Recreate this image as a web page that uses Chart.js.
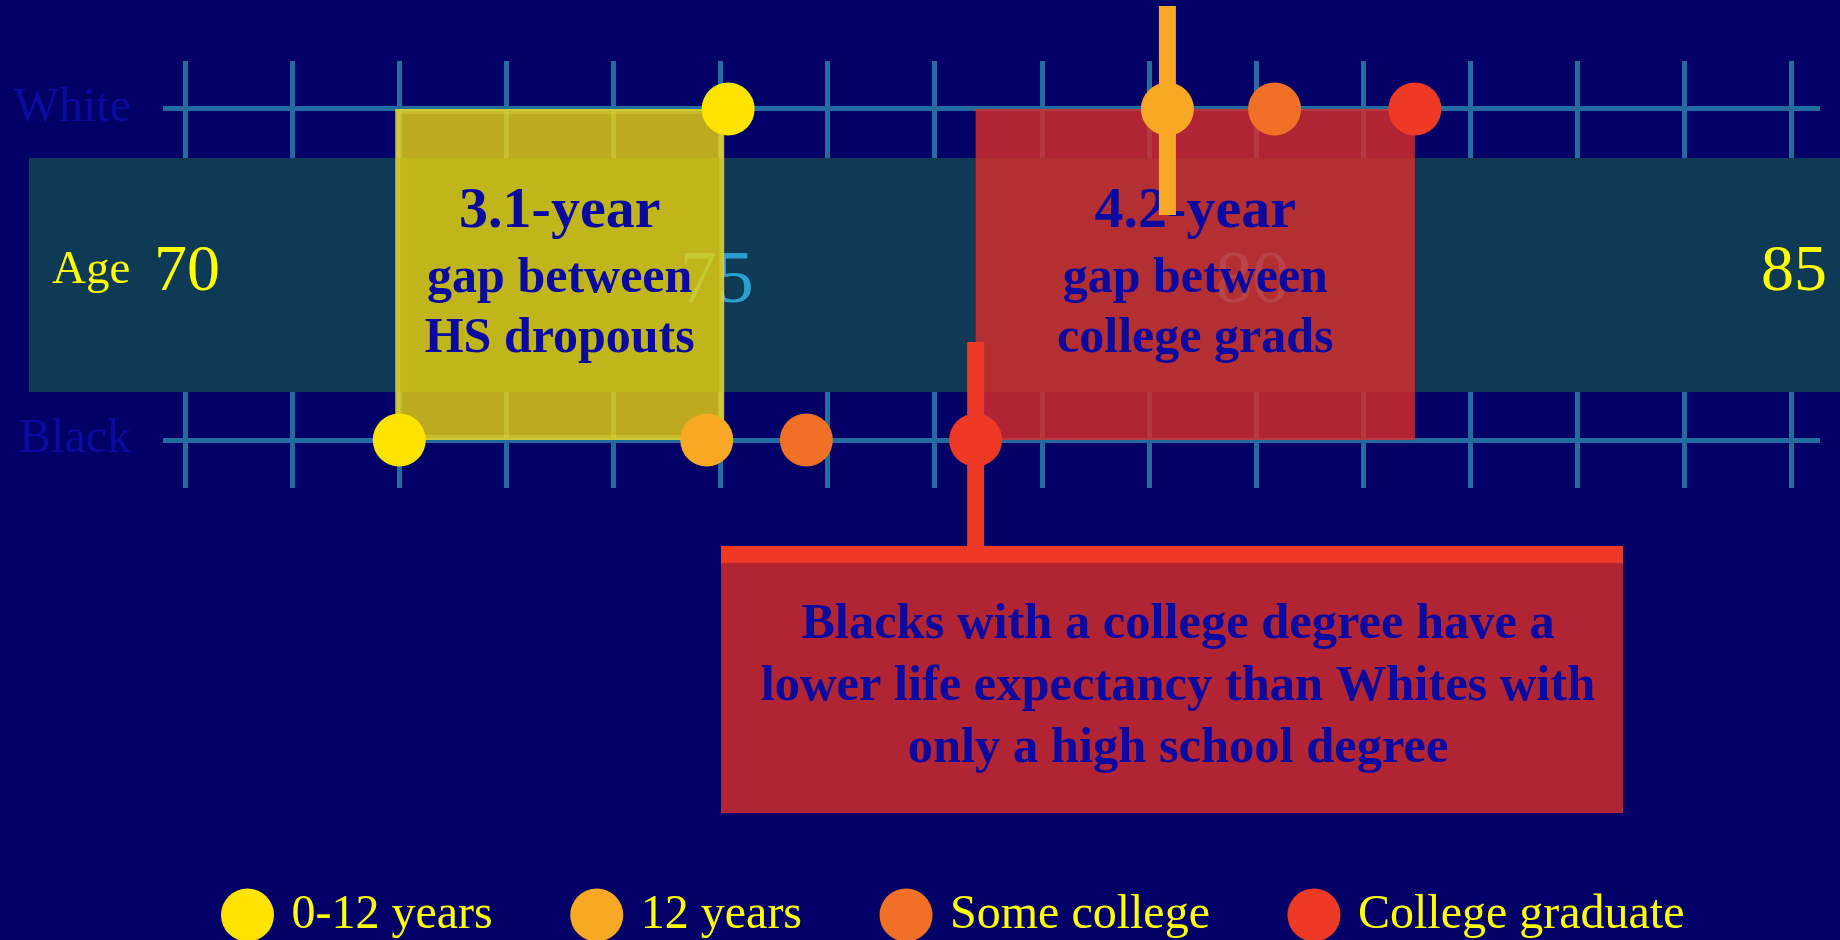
<!DOCTYPE html>
<html>
<head>
<meta charset="utf-8">
<script src="https://cdn.jsdelivr.net/npm/chart.js@4.4.1/dist/chart.umd.min.js"></script>
<style>
  html, body { margin: 0; padding: 0; background: #000066; }
</style>
</head>
<body>
<canvas id="chart" width="1840" height="940"></canvas>
<script>
// rows on the y axis (White above, Black below)
const rowLabels = ["White", "Black"];
const rowValues = [1, 0];

// education levels and life expectancy at each level
const levels = ["0-12 years", "12 years", "Some college", "College graduate"];
const whiteAge = [75.07, 79.17, 80.17, 81.48];
const blackAge = [72.0, 74.87, 75.8, 77.38];

// age scale labels drawn in the band
const ageLabels = [70, 75, 80, 85];

// gap boxes: which level they span and their text
const gapLevels = [0, 3];
const gapText = [
  ["3.1-year", "gap between", "HS dropouts"],
  ["4.2-year", "gap between", "college grads"],
];
const calloutText = [
  "Blacks with a college degree have a",
  "lower life expectancy than Whites with",
  "only a high school degree",
];

const levelColors = ["#fce300", "#f9a823", "#f07025", "#ee3a24"];
const ageLabelColors = ["#ffff00", "#2a9fd0", "#2a9fd0", "#ffff00"];
const gapColors = ["rgba(236, 212, 12, 0.8)", "rgba(220, 45, 40, 0.8)"];
const gapShift = [-4, 0];
const serif = '"Liberation Serif", "Times New Roman", serif';
const navy = "#000066";
const gridBlue = "#236ca0";
const textBlue = "#0a0aa0";

const decor = {
  id: "decor",
  beforeDraw(chart) {
    const { ctx, width, height } = chart;
    ctx.save();
    ctx.fillStyle = navy;
    ctx.fillRect(0, 0, width, height);
    ctx.restore();
  },
  beforeDatasetsDraw(chart) {
    const { ctx, width } = chart;
    const { x, y } = chart.scales;
    const yWhite = y.getPixelForValue(rowValues[0]);
    const yBlack = y.getPixelForValue(rowValues[1]);
    ctx.save();

    // row names
    ctx.textAlign = "right";
    ctx.textBaseline = "alphabetic";
    ctx.fillStyle = textBlue;
    ctx.font = `48px ${serif}`;
    rowLabels.forEach((r, i) => ctx.fillText(r, 131, y.getPixelForValue(rowValues[i]) + 12));

    // teal band behind the age labels
    ctx.fillStyle = "#0f3a55";
    ctx.fillRect(29, 158, width - 29, 234);

    ctx.textAlign = "left";
    ctx.fillStyle = "#ffff00";
    ctx.font = `47px ${serif}`;
    ctx.fillText("Age", 52, 283);

    ctx.textAlign = "center";
    ageLabels.forEach((a, i) => {
      const inner = i === 1 || i === 2;
      ctx.font = `${inner ? 74 : 66}px ${serif}`;
      ctx.fillStyle = ageLabelColors[i];
      ctx.fillText(String(a), x.getPixelForValue(a) + (inner ? -4 : 2), inner ? 302 : 290);
    });

    // gap boxes between Black and White at the same level
    gapLevels.forEach((lvl, i) => {
      const x0 = x.getPixelForValue(blackAge[lvl]) + gapShift[i];
      const x1 = x.getPixelForValue(whiteAge[lvl]) + gapShift[i];
      ctx.fillStyle = gapColors[i];
      ctx.fillRect(x0, yWhite, x1 - x0, yBlack - yWhite);
      if (i === 0) {
        ctx.strokeStyle = "rgba(230, 230, 80, 0.3)";
        ctx.lineWidth = 5;
        ctx.strokeRect(x0 + 2.5, yWhite + 2.5, x1 - x0 - 5, yBlack - yWhite - 5);
      }
      const cx = (x0 + x1) / 2;
      ctx.fillStyle = textBlue;
      ctx.font = `bold 58px ${serif}`;
      ctx.fillText(gapText[i][0], cx, 227);
      ctx.font = `bold 50px ${serif}`;
      ctx.fillText(gapText[i][1], cx, 292);
      ctx.fillText(gapText[i][2], cx, 352);
    });

    // pointer bars
    const ox = x.getPixelForValue(whiteAge[1]);
    ctx.fillStyle = levelColors[1];
    ctx.fillRect(ox - 8.5, 6, 17, 209);
    const rx = x.getPixelForValue(blackAge[3]);
    ctx.fillStyle = levelColors[3];
    ctx.fillRect(rx - 8.5, 342, 17, 210);

    // callout box
    ctx.fillStyle = "rgba(220, 45, 40, 0.8)";
    ctx.fillRect(721, 546, 902, 267);
    ctx.fillStyle = levelColors[3];
    ctx.fillRect(721, 546, 902, 17);
    ctx.fillStyle = textBlue;
    ctx.font = `bold 50.5px ${serif}`;
    calloutText.forEach((t, i) => ctx.fillText(t, 1178, 638 + i * 62));

    ctx.restore();
  },
};

new Chart(document.getElementById("chart"), {
  type: "scatter",
  data: {
    datasets: levels.map((label, i) => ({
      label,
      data: [
        { x: whiteAge[i], y: rowValues[0] },
        { x: blackAge[i], y: rowValues[1] },
      ],
      backgroundColor: levelColors[i],
      borderColor: levelColors[i],
      borderWidth: 0,
      pointRadius: 26.5,
      pointHoverRadius: 26.5,
    })),
  },
  options: {
    responsive: false,
    animation: false,
    devicePixelRatio: 1,
    events: [],
    layout: { autoPadding: false, padding: { top: 61, left: 92, right: 20, bottom: 0 } },
    scales: {
      x: {
        type: "linear",
        min: 69.7946,
        max: 85.2614,
        ticks: { display: false, stepSize: 1, includeBounds: false },
        grid: { color: gridBlue, lineWidth: 5, drawTicks: false },
        border: { display: false },
        afterFit: (s) => { s.height = 319; },
      },
      y: {
        type: "linear",
        min: -0.145,
        max: 1.145,
        afterBuildTicks: (s) => { s.ticks = rowValues.map((v) => ({ value: v })); },
        afterFit: (s) => { s.width = 71; },
        ticks: { display: false },
        grid: { color: gridBlue, lineWidth: 5, drawTicks: false },
        border: { display: false },
      },
    },
    plugins: {
      legend: {
        position: "bottom",
        maxHeight: 133,
        labels: {
          usePointStyle: true,
          pointStyle: "circle",
          boxHeight: 37.5,
          padding: 84,
          color: "#ffff00",
          font: { family: serif, size: 48 },
        },
      },
      tooltip: { enabled: false },
    },
  },
  plugins: [decor],
});
</script>
</body>
</html>
